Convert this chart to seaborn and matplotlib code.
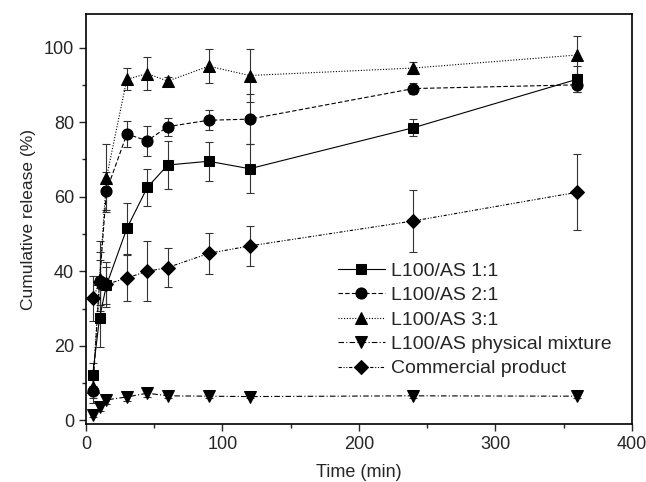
import matplotlib
matplotlib.use("Agg")
import matplotlib.pyplot as plt
import seaborn as sns
import pandas as pd
from matplotlib.ticker import MultipleLocator

# time points (min)
time_min = [5, 10, 15, 30, 45, 60, 90, 120, 240, 360]

# cumulative release (%) and sd
as_1_1 = [12.3, 27.6, 36.2, 51.5, 62.5, 68.5, 69.5, 67.5, 78.5, 91.5]
as_1_1_sd = [3, 8, 5, 6.8, 5, 6.4, 5.2, 6.6, 2.3, 3.5]
as_2_1 = [7.8, 37.3, 61.5, 76.8, 75.0, 78.8, 80.5, 80.8, 89.0, 90.0]
as_2_1_sd = [3, 8, 5, 3.6, 4, 2.4, 2.7, 6.7, 1.5, 2]
as_3_1 = [9.0, 38.0, 65.0, 91.5, 93.0, 91.0, 95.0, 92.5, 94.5, 98.0]
as_3_1_sd = [3, 10, 9, 3, 4.5, 1, 4.5, 7, 1.5, 5]
phys_mix = [1.5, 3.5, 5.5, 6.3, 7.3, 6.6, 6.5, 6.4, 6.6, 6.5]
phys_mix_sd = [0.5, 1, 1, 1, 1, 0.5, 0.5, 0.5, 0.5, 0.5]
commercial = [32.7, 37.0, 36.5, 38.2, 40.0, 41.0, 44.8, 46.8, 53.5, 61.2]
commercial_sd = [6, 6, 6, 6.2, 8, 5.3, 5.5, 5.4, 8.4, 10.2]

labels = ["L100/AS 1:1", "L100/AS 2:1", "L100/AS 3:1",
          "L100/AS physical mixture", "Commercial product"]
values = [as_1_1, as_2_1, as_3_1, phys_mix, commercial]
errors = [as_1_1_sd, as_2_1_sd, as_3_1_sd, phys_mix_sd, commercial_sd]
markers = ["s", "o", "^", "v", "D"]
styles = ["-", (0, (4, 2)), (0, (1, 1.5)), (0, (5, 2, 1, 2)), (0, (3, 1.5, 1, 1.5, 1, 1.5))]
msizes = [7, 8, 8, 8, 7]

sns.set_style("ticks")
plt.rcParams["font.family"] = ["Liberation Sans", "DejaVu Sans"]

fig = plt.figure(figsize=(6.46, 4.82), dpi=100)
ax = fig.add_axes([0.133, 0.12, 0.845, 0.851])

for lab, vals, err, mk, ls, ms in zip(labels, values, errors, markers, styles, msizes):
    df = pd.DataFrame({"Time": time_min, "Release": vals})
    ax.errorbar(time_min, vals, yerr=err, fmt="none", ecolor="#333333",
                elinewidth=0.8, capsize=3, capthick=0.8, zorder=2)
    sns.lineplot(data=df, x="Time", y="Release", ax=ax, color="black",
                 linestyle=ls, linewidth=0.8, marker=mk, markersize=ms,
                 markeredgecolor="black", label=lab, zorder=3)

ax.set_xlim(0, 400)
ax.set_ylim(-1, 109)
ax.xaxis.set_major_locator(MultipleLocator(100))
ax.xaxis.set_minor_locator(MultipleLocator(50))
ax.yaxis.set_major_locator(MultipleLocator(20))
ax.yaxis.set_minor_locator(MultipleLocator(10))
ax.tick_params(which="major", direction="out", length=5, width=1, labelsize=13)
ax.tick_params(which="minor", direction="out", length=3, width=1)
for sp in ax.spines.values():
    sp.set_linewidth(1.2)
    sp.set_color("black")

ax.set_xlabel("Time (min)", fontsize=13, labelpad=8)
ax.set_ylabel("Cumulative release (%)", fontsize=12.5, labelpad=6)

ax.legend(loc="upper left", bbox_to_anchor=(0.4615, 0.395), frameon=False,
          borderaxespad=0, borderpad=0, fontsize=14, handlelength=2.4,
          handletextpad=0.35, labelspacing=0.35)

fig.savefig("out.png", dpi=100)
